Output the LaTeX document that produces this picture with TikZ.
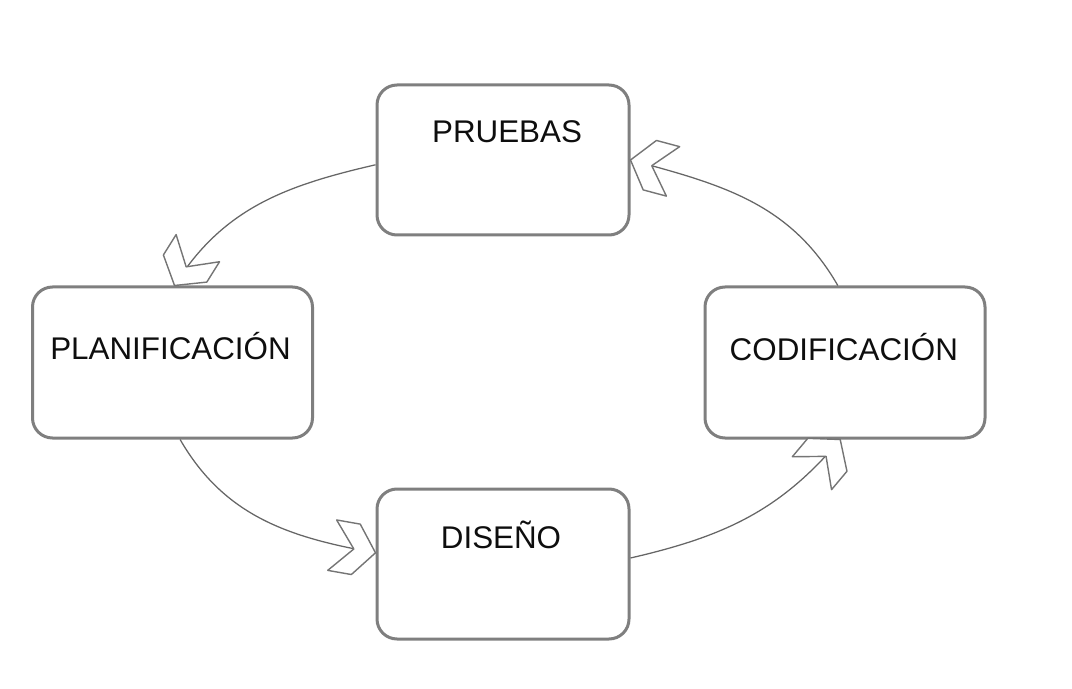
\documentclass[tikz,border=0pt]{standalone}
\usepackage{fontspec}
\setmainfont{Liberation Sans}
\usetikzlibrary{positioning, decorations.markings}
\definecolor{boxgray}{HTML}{7F7F7F}
\definecolor{linegray}{HTML}{666666}
\definecolor{txtcolor}{HTML}{0E0E0E}
% open chevron head, drawn at the end of each connector
\newcommand{\chevronhead}{%
  \draw[draw=linegray!90, fill=white, line width=1pt, line join=round]
    (0,0) -- (-0.5,0.64) -- (-1.1,0.64) -- (-0.55,0) -- (-1.1,-0.64) -- (-0.5,-0.64) -- cycle;}

\begin{document}
\begin{tikzpicture}[
  fase/.style={
    draw=boxgray, line width=0.075cm, rounded corners=0.5cm, fill=white,
    minimum width=6.3cm, minimum height=3.75cm
  },
  fasewide/.style={fase, minimum width=7.0cm, minimum height=3.775cm},
  txt/.style={font=\fontsize{22.3}{27}\selectfont, text=txtcolor, inner sep=0pt},
  flecha/.style={
    draw=linegray, line width=0.9pt, postaction={decorate},
    decoration={markings, mark=at position 1 with {\chevronhead}}
  }
]
  \useasboundingbox (0,0) rectangle (26.8,17.2);

  % ── Phase boxes ──
  \node[fase]     (pru)  at (12.575, 13.2)   {};
  \node[fasewide] (plan) at (4.3125, 8.1375) {};
  \node[fasewide] (cod)  at (21.125, 8.1375) {};
  \node[fase]     (dis)  at (12.575, 3.1)    {};

  % ── Labels ──
  \node[txt] (pru-t)  at ([xshift=0.1cm, yshift=-1.2cm]pru.north)    {PRUEBAS};
  \node[txt] (plan-t) at ([xshift=-0.05cm, yshift=-1.52cm]plan.north) {PLANIFICACIÓN};
  \node[txt] (cod-t)  at ([xshift=-0.03cm, yshift=-1.55cm]cod.north)  {CODIFICACIÓN};
  \node[txt] (dis-t)  at ([xshift=-0.05cm, yshift=-1.18cm]dis.north)  {DISEÑO};

  % ── Cycle connectors ──
  \draw[flecha] ([yshift=-0.12cm]pru.west) to[out=193, in=58] ([xshift=0.05cm]plan.north);
  \draw[flecha] ([xshift=0.19cm]plan.south) to[out=-60, in=170] ([yshift=0.28cm]dis.west);
  \draw[flecha] ([yshift=0.15cm]dis.east) to[out=13, in=230] ([xshift=-0.12cm]cod.south);
  \draw[flecha] ([xshift=-0.18cm]cod.north) to[out=120, in=-15] (pru.east);

\end{tikzpicture}
\end{document}
